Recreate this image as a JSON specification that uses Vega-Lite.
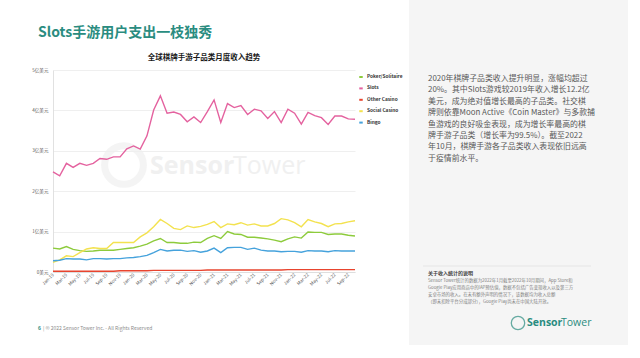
{
  "$schema": "https://vega.github.io/schema/vega-lite/v6.json",
  "autosize": "none",
  "width": 302,
  "height": 202,
  "padding": {"left": 53, "top": 70, "right": 285, "bottom": 86},
  "background": "white",
  "config": {
    "view": {"stroke": null},
    "font": "Noto Sans CJK SC",
    "text": {"font": "Noto Sans CJK SC"}
  },
  "layer": [
    {
      "data": {"values": [{}]},
      "mark": {"type": "rect", "color": "#f5f5f5"},
      "encoding": {"x": {"value": 356}, "x2": {"value": 575}, "y": {"value": -70}, "y2": {"value": 275}}
    },
    {
      "data": {"values": [{}]},
      "mark": {"type": "point", "shape": "circle", "filled": false, "stroke": "#f0f0f0", "strokeWidth": 7},
      "encoding": {"x": {"value": 71}, "y": {"value": 95}, "size": {"value": 1500}}
    },
    {
      "data": {"values": [{}]},
      "mark": {"type": "text", "align": "left", "baseline": "middle", "fontSize": 25, "fontWeight": "bold", "color": "#f0f0f0", "font": "Open Sans"},
      "encoding": {"x": {"value": 97}, "y": {"value": 96}, "text": {"value": "Sensor"}}
    },
    {
      "data": {"values": [{}]},
      "mark": {"type": "text", "align": "left", "baseline": "middle", "fontSize": 25, "fontWeight": "normal", "color": "#f0f0f0", "font": "Open Sans"},
      "encoding": {"x": {"value": 180}, "y": {"value": 96}, "text": {"value": "Tower"}}
    },
    {
      "data": {"values": [{}]},
      "mark": {"type": "text", "align": "left", "baseline": "middle", "fontSize": 14, "fontWeight": "bold", "color": "#2a8c80"},
      "encoding": {"x": {"value": -15}, "y": {"value": -37}, "text": {"value": "Slots手游用户支出一枝独秀"}}
    },
    {
      "data": {"values": [{}]},
      "mark": {"type": "text", "align": "center", "baseline": "middle", "fontSize": 7.5, "fontWeight": "bold", "color": "#1a1a1a"},
      "encoding": {"x": {"value": 151}, "y": {"value": -12}, "text": {"value": "全球棋牌手游子品类月度收入趋势"}}
    },
    {
      "data": {"values": [{}]},
      "mark": {"type": "text", "align": "left", "baseline": "alphabetic", "fontSize": 7.9, "lineHeight": 11.4, "color": "#595959"},
      "encoding": {"x": {"value": 375}, "y": {"value": 11}, "text": {"value": ["2020年棋牌子品类收入提升明显，涨幅均超过", "20%。其中Slots游戏较2019年收入增长12.2亿", "美元，成为绝对值增长最高的子品类。社交棋", "牌则依靠Moon Active《Coin Master》与多款捕", "鱼游戏的良好吸金表现，成为增长率最高的棋", "牌手游子品类（增长率为99.5%）。截至2022", "年10月，棋牌手游各子品类收入表现依旧远高", "于疫情前水平。"]}}
    },
    {
      "data": {"values": [{}]},
      "mark": {"type": "rule", "color": "#e0e0e0", "strokeWidth": 0.7},
      "encoding": {"x": {"value": 370}, "x2": {"value": 538}, "y": {"value": 196}}
    },
    {
      "data": {"values": [{}]},
      "mark": {"type": "text", "align": "left", "baseline": "middle", "fontSize": 5, "fontWeight": "bold", "color": "#404040"},
      "encoding": {"x": {"value": 375}, "y": {"value": 203}, "text": {"value": "关于收入统计的说明"}}
    },
    {
      "data": {"values": [{}]},
      "mark": {"type": "text", "align": "left", "baseline": "alphabetic", "fontSize": 4.4, "lineHeight": 7, "color": "#7f7f7f"},
      "encoding": {"x": {"value": 375}, "y": {"value": 212}, "text": {"value": ["Sensor Tower统计的数据为2022年1月截至2022年10月期间，App Store和", "Google Play应用商店中的IAP预估值，数据不包括广告变现收入以及第三方", "安卓市场的收入。在未有额外声明的情况下，该数据均为收入总额", "（即未扣除平台分成部分），Google Play尚未在中国大陆开放。"]}}
    },
    {
      "data": {"values": [{}]},
      "mark": {"type": "point", "shape": "circle", "filled": false, "stroke": "#2a8c80", "strokeWidth": 1.3},
      "encoding": {"x": {"value": 465}, "y": {"value": 253}, "size": {"value": 180}}
    },
    {
      "data": {"values": [{}]},
      "mark": {"type": "text", "align": "left", "baseline": "middle", "fontSize": 10.5, "fontWeight": "bold", "color": "#2a8c80", "font": "Open Sans"},
      "encoding": {"x": {"value": 474}, "y": {"value": 253}, "text": {"value": "Sensor"}}
    },
    {
      "data": {"values": [{}]},
      "mark": {"type": "text", "align": "left", "baseline": "middle", "fontSize": 10.5, "fontWeight": "normal", "color": "#2a8c80", "font": "Open Sans"},
      "encoding": {"x": {"value": 508}, "y": {"value": 253}, "text": {"value": "Tower"}}
    },
    {
      "data": {"values": [{}]},
      "mark": {"type": "text", "align": "left", "baseline": "middle", "fontSize": 5, "fontWeight": "bold", "color": "#2a8c80"},
      "encoding": {"x": {"value": -15}, "y": {"value": 258}, "text": {"value": "6"}}
    },
    {
      "data": {"values": [{}]},
      "mark": {"type": "text", "align": "left", "baseline": "middle", "fontSize": 5, "color": "#8c8c8c"},
      "encoding": {"x": {"value": -10}, "y": {"value": 258}, "text": {"value": "|   © 2022 Sensor Tower Inc. - All Rights Reserved"}}
    },
    {
      "data": {"values": [
        {"m": "Jan-19", "Poker/Solitaire": 0.59, "Slots": 2.48, "Other Casino": 0.02, "Social Casino": 0.24, "Bingo": 0.28},
        {"m": "Feb-19", "Poker/Solitaire": 0.57, "Slots": 2.38, "Other Casino": 0.02, "Social Casino": 0.30, "Bingo": 0.29},
        {"m": "Mar-19", "Poker/Solitaire": 0.63, "Slots": 2.69, "Other Casino": 0.02, "Social Casino": 0.40, "Bingo": 0.33},
        {"m": "Apr-19", "Poker/Solitaire": 0.56, "Slots": 2.59, "Other Casino": 0.02, "Social Casino": 0.38, "Bingo": 0.32},
        {"m": "May-19", "Poker/Solitaire": 0.53, "Slots": 2.69, "Other Casino": 0.02, "Social Casino": 0.48, "Bingo": 0.32},
        {"m": "Jun-19", "Poker/Solitaire": 0.51, "Slots": 2.64, "Other Casino": 0.02, "Social Casino": 0.57, "Bingo": 0.30},
        {"m": "Jul-19", "Poker/Solitaire": 0.52, "Slots": 2.69, "Other Casino": 0.02, "Social Casino": 0.60, "Bingo": 0.33},
        {"m": "Aug-19", "Poker/Solitaire": 0.54, "Slots": 2.81, "Other Casino": 0.02, "Social Casino": 0.58, "Bingo": 0.33},
        {"m": "Sep-19", "Poker/Solitaire": 0.54, "Slots": 2.79, "Other Casino": 0.02, "Social Casino": 0.58, "Bingo": 0.32},
        {"m": "Oct-19", "Poker/Solitaire": 0.54, "Slots": 2.85, "Other Casino": 0.02, "Social Casino": 0.73, "Bingo": 0.33},
        {"m": "Nov-19", "Poker/Solitaire": 0.56, "Slots": 2.85, "Other Casino": 0.03, "Social Casino": 0.73, "Bingo": 0.33},
        {"m": "Dec-19", "Poker/Solitaire": 0.58, "Slots": 3.05, "Other Casino": 0.03, "Social Casino": 0.73, "Bingo": 0.35},
        {"m": "Jan-20", "Poker/Solitaire": 0.60, "Slots": 3.12, "Other Casino": 0.03, "Social Casino": 0.73, "Bingo": 0.36},
        {"m": "Feb-20", "Poker/Solitaire": 0.64, "Slots": 3.04, "Other Casino": 0.03, "Social Casino": 0.87, "Bingo": 0.38},
        {"m": "Mar-20", "Poker/Solitaire": 0.69, "Slots": 3.37, "Other Casino": 0.03, "Social Casino": 0.97, "Bingo": 0.41},
        {"m": "Apr-20", "Poker/Solitaire": 0.77, "Slots": 4.01, "Other Casino": 0.04, "Social Casino": 1.12, "Bingo": 0.48},
        {"m": "May-20", "Poker/Solitaire": 0.83, "Slots": 4.36, "Other Casino": 0.04, "Social Casino": 1.30, "Bingo": 0.56},
        {"m": "Jun-20", "Poker/Solitaire": 0.73, "Slots": 3.93, "Other Casino": 0.04, "Social Casino": 1.20, "Bingo": 0.52},
        {"m": "Jul-20", "Poker/Solitaire": 0.73, "Slots": 3.96, "Other Casino": 0.04, "Social Casino": 1.08, "Bingo": 0.54},
        {"m": "Aug-20", "Poker/Solitaire": 0.71, "Slots": 3.90, "Other Casino": 0.04, "Social Casino": 1.05, "Bingo": 0.54},
        {"m": "Sep-20", "Poker/Solitaire": 0.71, "Slots": 3.72, "Other Casino": 0.04, "Social Casino": 1.14, "Bingo": 0.51},
        {"m": "Oct-20", "Poker/Solitaire": 0.74, "Slots": 3.84, "Other Casino": 0.04, "Social Casino": 1.10, "Bingo": 0.53},
        {"m": "Nov-20", "Poker/Solitaire": 0.73, "Slots": 3.70, "Other Casino": 0.04, "Social Casino": 1.13, "Bingo": 0.49},
        {"m": "Dec-20", "Poker/Solitaire": 0.83, "Slots": 3.97, "Other Casino": 0.05, "Social Casino": 1.18, "Bingo": 0.52},
        {"m": "Jan-21", "Poker/Solitaire": 0.90, "Slots": 4.26, "Other Casino": 0.05, "Social Casino": 1.25, "Bingo": 0.59},
        {"m": "Feb-21", "Poker/Solitaire": 0.83, "Slots": 3.70, "Other Casino": 0.05, "Social Casino": 1.10, "Bingo": 0.48},
        {"m": "Mar-21", "Poker/Solitaire": 1.00, "Slots": 4.17, "Other Casino": 0.05, "Social Casino": 1.19, "Bingo": 0.60},
        {"m": "Apr-21", "Poker/Solitaire": 0.94, "Slots": 4.07, "Other Casino": 0.05, "Social Casino": 1.17, "Bingo": 0.61},
        {"m": "May-21", "Poker/Solitaire": 0.93, "Slots": 4.12, "Other Casino": 0.05, "Social Casino": 1.22, "Bingo": 0.61},
        {"m": "Jun-21", "Poker/Solitaire": 0.86, "Slots": 3.90, "Other Casino": 0.05, "Social Casino": 1.16, "Bingo": 0.56},
        {"m": "Jul-21", "Poker/Solitaire": 0.86, "Slots": 4.03, "Other Casino": 0.05, "Social Casino": 1.19, "Bingo": 0.59},
        {"m": "Aug-21", "Poker/Solitaire": 0.84, "Slots": 3.99, "Other Casino": 0.05, "Social Casino": 1.14, "Bingo": 0.54},
        {"m": "Sep-21", "Poker/Solitaire": 0.82, "Slots": 3.80, "Other Casino": 0.05, "Social Casino": 1.14, "Bingo": 0.52},
        {"m": "Oct-21", "Poker/Solitaire": 0.79, "Slots": 3.97, "Other Casino": 0.05, "Social Casino": 1.20, "Bingo": 0.52},
        {"m": "Nov-21", "Poker/Solitaire": 0.75, "Slots": 3.70, "Other Casino": 0.05, "Social Casino": 1.32, "Bingo": 0.50},
        {"m": "Dec-21", "Poker/Solitaire": 0.82, "Slots": 4.03, "Other Casino": 0.06, "Social Casino": 1.29, "Bingo": 0.51},
        {"m": "Jan-22", "Poker/Solitaire": 0.87, "Slots": 3.93, "Other Casino": 0.06, "Social Casino": 1.22, "Bingo": 0.51},
        {"m": "Feb-22", "Poker/Solitaire": 0.84, "Slots": 3.66, "Other Casino": 0.06, "Social Casino": 1.12, "Bingo": 0.49},
        {"m": "Mar-22", "Poker/Solitaire": 0.99, "Slots": 3.95, "Other Casino": 0.06, "Social Casino": 1.30, "Bingo": 0.53},
        {"m": "Apr-22", "Poker/Solitaire": 0.98, "Slots": 3.87, "Other Casino": 0.06, "Social Casino": 1.24, "Bingo": 0.52},
        {"m": "May-22", "Poker/Solitaire": 0.98, "Slots": 3.82, "Other Casino": 0.06, "Social Casino": 1.20, "Bingo": 0.52},
        {"m": "Jun-22", "Poker/Solitaire": 0.93, "Slots": 3.65, "Other Casino": 0.06, "Social Casino": 1.12, "Bingo": 0.50},
        {"m": "Jul-22", "Poker/Solitaire": 0.94, "Slots": 3.86, "Other Casino": 0.06, "Social Casino": 1.19, "Bingo": 0.53},
        {"m": "Aug-22", "Poker/Solitaire": 0.94, "Slots": 3.86, "Other Casino": 0.06, "Social Casino": 1.20, "Bingo": 0.52},
        {"m": "Sep-22", "Poker/Solitaire": 0.91, "Slots": 3.79, "Other Casino": 0.06, "Social Casino": 1.24, "Bingo": 0.52},
        {"m": "Oct-22", "Poker/Solitaire": 0.89, "Slots": 3.78, "Other Casino": 0.06, "Social Casino": 1.27, "Bingo": 0.52}
      ]},
      "transform": [
        {"fold": ["Poker/Solitaire", "Slots", "Other Casino", "Social Casino", "Bingo"], "as": ["series", "value"]}
      ],
      "mark": {"type": "line", "strokeWidth": 1.4, "strokeJoin": "miter"},
      "encoding": {
        "x": {
          "field": "m", "type": "ordinal", "sort": null,
          "scale": {"type": "point", "padding": 0},
          "axis": {
            "title": null,
            "values": ["Jan-19","Mar-19","May-19","Jul-19","Sep-19","Nov-19","Jan-20","Mar-20","May-20","Jul-20","Sep-20","Nov-20","Jan-21","Mar-21","May-21","Jul-21","Sep-21","Nov-21","Jan-22","Mar-22","May-22","Jul-22","Sep-22"],
            "labelAngle": -45, "labelAlign": "right", "labelBaseline": "middle",
            "labelFontSize": 4.6, "labelColor": "#595959", "labelPadding": 2,
            "ticks": false, "grid": false, "domainColor": "#d9d9d9", "domainWidth": 0.8
          }
        },
        "y": {
          "field": "value", "type": "quantitative",
          "scale": {"domain": [0, 5], "nice": false},
          "axis": {
            "title": null, "values": [0, 1, 2, 3, 4, 5],
            "labelExpr": "datum.value == 0 ? '0美元' : datum.value + '亿美元'",
            "labelFontSize": 4.6, "labelColor": "#595959", "labelPadding": 5,
            "ticks": false, "grid": true, "gridColor": "#e8e8e8", "gridWidth": 0.7,
            "domain": true, "domainColor": "#d9d9d9", "domainWidth": 0.8
          }
        },
        "color": {
          "field": "series", "type": "nominal",
          "scale": {
            "domain": ["Poker/Solitaire", "Slots", "Other Casino", "Social Casino", "Bingo"],
            "range": ["#8dcb3c", "#e4629f", "#e8442e", "#f3e24f", "#45a2dc"]
          },
          "legend": {
            "title": null, "orient": "none", "legendX": 305, "legendY": 4,
            "labelFontSize": 4.8, "labelFontWeight": "bold", "labelColor": "#333333",
            "symbolType": "stroke", "symbolStrokeWidth": 2, "symbolSize": 12,
            "rowPadding": 3.4, "labelOffset": 3
          }
        }
      }
    }
  ]
}
